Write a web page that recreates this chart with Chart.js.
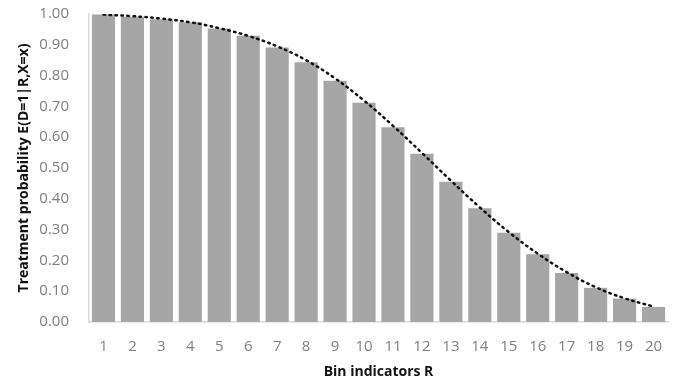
<!DOCTYPE html>
<html>
<head>
<meta charset="utf-8">
<script src="https://cdn.jsdelivr.net/npm/chart.js@4/dist/chart.umd.min.js"></script>
<style>
  html, body { margin: 0; padding: 0; background: #fff; }
  #wrap { width: 678px; height: 384px; }
</style>
</head>
<body>
<div id="wrap"><canvas id="chart" width="678" height="384"></canvas></div>
<script>
// bins 1..20
const bins = ['1','2','3','4','5','6','7','8','9','10','11','12','13','14','15','16','17','18','19','20'];
// bar heights
const probs = [0.998, 0.991, 0.983, 0.973, 0.953, 0.929, 0.891, 0.843, 0.783, 0.712,
               0.632, 0.546, 0.455, 0.369, 0.290, 0.220, 0.159, 0.111, 0.076, 0.049];
// dotted trend line
const trend = [0.998, 0.993, 0.985, 0.973, 0.954, 0.929, 0.895, 0.850, 0.791, 0.719,
               0.637, 0.549, 0.459, 0.372, 0.292, 0.222, 0.162, 0.113, 0.077, 0.050];
const yTicks = [0, 0.1, 0.2, 0.3, 0.4, 0.5, 0.6, 0.7, 0.8, 0.9, 1.0];

const FONT = '"Open Sans", sans-serif';

new Chart(document.getElementById('chart'), {
  data: {
    labels: bins,
    datasets: [
      {
        type: 'line',
        data: trend,
        borderColor: '#111',
        borderWidth: 2.5,
        borderDash: [1.5, 4.5],
        borderCapStyle: 'round',
        pointRadius: 0,
        tension: 0.4,
        fill: false,
        order: 0,
      },
      {
        type: 'bar',
        data: probs,
        backgroundColor: '#a6a6a6',
        barPercentage: 0.8,
        categoryPercentage: 1.0,
        order: 1,
      },
    ],
  },
  options: {
    responsive: false,
    animation: false,
    layout: { padding: { top: 14, right: 10, left: 12, bottom: 0 } },
    plugins: { legend: { display: false }, tooltip: { enabled: false } },
    scales: {
      x: {
        grid: { display: false },
        border: { color: '#d9d9d9', width: 1.5 },
        ticks: { color: '#7f7f7f', font: { family: FONT, size: 15 }, padding: 8 },
        title: {
          display: true,
          text: 'Bin indicators R',
          color: '#111',
          font: { family: FONT, size: 14, weight: 'bold' },
          padding: { top: 3 },
        },
        afterFit: s => { s.height = 62; },
      },
      y: {
        min: 0,
        max: 1,
        afterBuildTicks: s => { s.ticks = yTicks.map(v => ({ value: v })); },
        grid: { display: false },
        border: { color: '#d9d9d9', width: 1.5 },
        ticks: {
          color: '#7f7f7f',
          font: { family: FONT, size: 15 },
          padding: 12,
          callback: v => Number(v).toFixed(2),
        },
        title: {
          display: true,
          text: 'Treatment probability E(D=1|R,X=x)',
          color: '#111',
          font: { family: FONT, size: 14, weight: 'bold' },
          padding: { bottom: 2 },
        },
        afterFit: s => { s.width = 77; s.paddingTop = 0; },
      },
    },
  },
});
</script>
</body>
</html>
